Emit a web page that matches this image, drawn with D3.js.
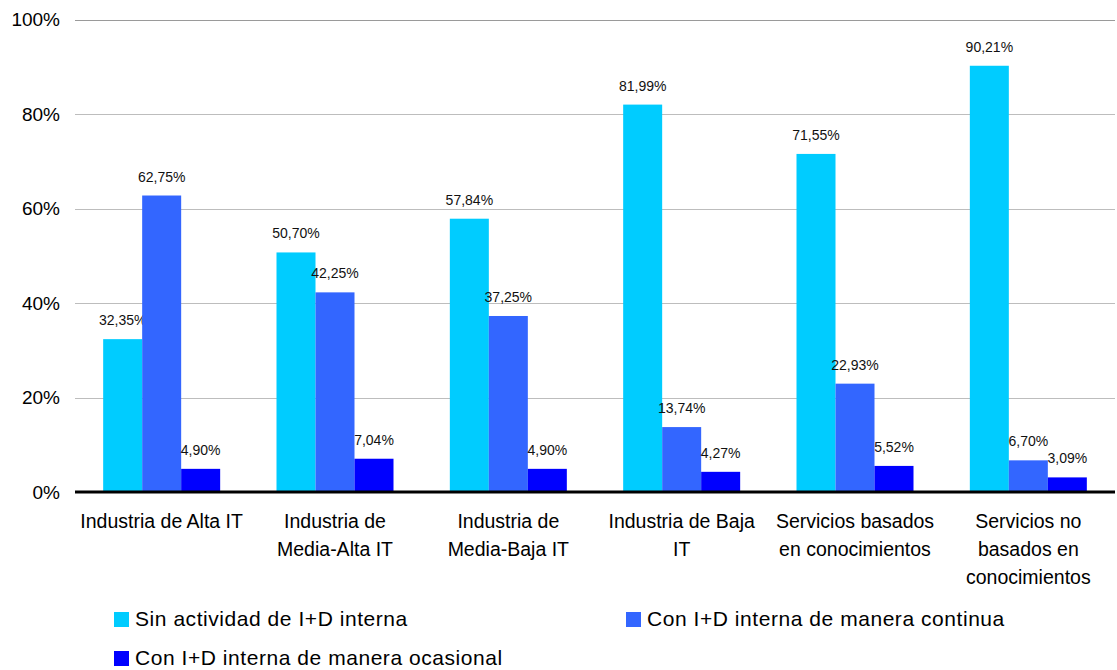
<!DOCTYPE html>
<html>
<head>
<meta charset="utf-8">
<script src="https://cdn.jsdelivr.net/npm/d3@7"></script>
<style>
  body { margin: 0; background: #fff; }
  svg { font-family: "Liberation Sans", Arial, sans-serif; }
</style>
</head>
<body>
<div id="root"></div>
<script>
var categories = [
  ["Industria de Alta IT"],
  ["Industria de", "Media-Alta IT"],
  ["Industria de", "Media-Baja IT"],
  ["Industria de Baja", "IT"],
  ["Servicios basados", "en conocimientos"],
  ["Servicios no", "basados en", "conocimientos"]
];
var seriesNames = [
  "Sin actividad de I+D interna",
  "Con I+D interna de manera continua",
  "Con I+D interna de manera ocasional"
];
var sinID = [32.35, 50.70, 57.84, 81.99, 71.55, 90.21];
var continua = [62.75, 42.25, 37.25, 13.74, 22.93, 6.70];
var ocasional = [4.90, 7.04, 4.90, 4.27, 5.52, 3.09];
var yTicks = [0, 20, 40, 60, 80, 100];
var colors = ["#00ccff", "#3366ff", "#0000ff"];

var width = 1117;
var height = 670;
var plotLeft = 75, plotRight = 1115, plotTop = 19.5, plotBottom = 492;

var svg = d3.select("#root").append("svg")
  .attr("width", width)
  .attr("height", height);

var series = [sinID, continua, ocasional];

var xScale = d3.scaleBand()
  .domain(d3.range(categories.length))
  .range([plotLeft, plotRight])
  .paddingInner(0.325)
  .paddingOuter(0.1625);

var xInner = d3.scaleBand()
  .domain(d3.range(series.length))
  .range([0, xScale.bandwidth()]);

var yScale = d3.scaleLinear().domain([0, 100]).range([plotBottom, plotTop]);

// gridlines
svg.append("g")
  .selectAll("line")
  .data(yTicks.filter((d) => d > 0))
  .enter()
  .append("line")
  .attr("x1", plotLeft)
  .attr("x2", plotRight)
  .attr("y1", (d) => Math.round(yScale(d)) + 0.5)
  .attr("y2", (d) => Math.round(yScale(d)) + 0.5)
  .attr("stroke", (d) => (d === 100 ? "#9a9a9a" : "#bdbdbd"))
  .attr("stroke-width", 1);

// y axis labels
var yAxis = d3.axisLeft(yScale)
  .tickValues(yTicks)
  .tickFormat((d) => d + "%")
  .tickSize(0)
  .tickPadding(15);
var yg = svg.append("g")
  .attr("transform", "translate(" + plotLeft + ",0)")
  .call(yAxis);
yg.select(".domain").remove();
yg.selectAll("text")
  .attr("font-size", 19)
  .attr("fill", "#000")
  .attr("font-family", "Liberation Sans, Arial, sans-serif");

// bars
var groups = svg.append("g")
  .selectAll("g")
  .data(categories)
  .enter()
  .append("g")
  .attr("transform", (d, i) => "translate(" + xScale(i) + ",0)");

groups.each(function (c, i) {
  var g = d3.select(this);
  series.forEach(function (s, j) {
    g.append("rect")
      .attr("x", xInner(j))
      .attr("y", yScale(s[i]))
      .attr("width", xInner.bandwidth())
      .attr("height", plotBottom - yScale(s[i]))
      .attr("fill", colors[j]);
    g.append("text")
      .attr("x", xInner(j) + xInner.bandwidth() / 2)
      .attr("y", yScale(s[i]) - 14)
      .attr("text-anchor", "middle")
      .attr("font-size", 14)
      .attr("fill", "#111")
      .text(s[i].toFixed(2).replace(".", ",") + "%");
  });
});

// zero axis line
svg.append("line")
  .attr("x1", plotLeft)
  .attr("x2", plotRight)
  .attr("y1", plotBottom)
  .attr("y2", plotBottom)
  .attr("stroke", "#000")
  .attr("stroke-width", 3);

// category labels
svg.append("g")
  .selectAll("text")
  .data(categories)
  .enter()
  .append("text")
  .attr("text-anchor", "middle")
  .attr("font-size", 19.5)
  .attr("fill", "#000")
  .attr("x", (d, i) => xScale(i) + xScale.bandwidth() / 2)
  .attr("y", 528)
  .each(function (d) {
    var t = d3.select(this);
    var x = t.attr("x");
    d.forEach(function (line, k) {
      t.append("tspan")
        .attr("x", x)
        .attr("dy", k === 0 ? 0 : 28)
        .text(line);
    });
  });

// legend
var legendPos = [[114, 612], [626, 612], [114, 651]];
var legend = svg.append("g")
  .selectAll("g")
  .data(seriesNames)
  .enter()
  .append("g")
  .attr("transform", (d, i) => "translate(" + legendPos[i][0] + "," + legendPos[i][1] + ")");
legend.append("rect")
  .attr("width", 15)
  .attr("height", 15)
  .attr("fill", (d, i) => colors[i]);
legend.append("text")
  .attr("x", 21)
  .attr("y", 14)
  .attr("font-size", 21)
  .attr("letter-spacing", 0.55)
  .attr("fill", "#000")
  .text((d) => d);
</script>
</body>
</html>
